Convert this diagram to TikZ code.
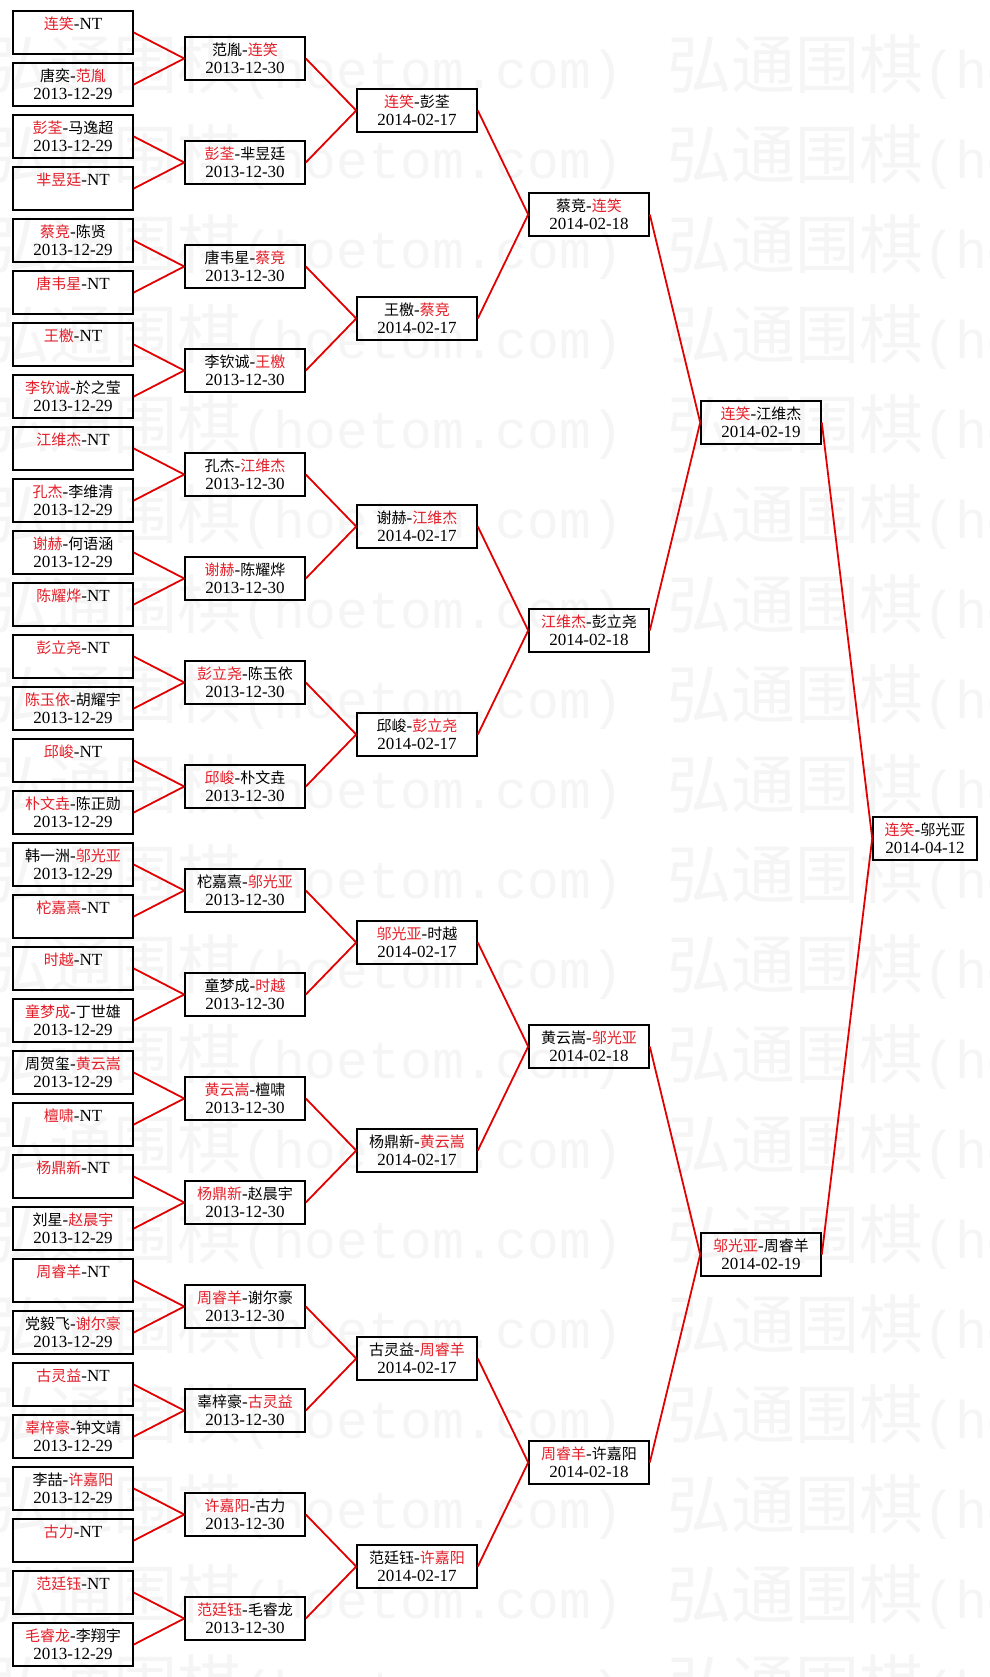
\documentclass[tikz,border=0pt]{standalone}
\usepackage{fontspec}
\setmainfont{Liberation Serif}
\newfontfamily\cjk{Noto Sans CJK SC}
\newfontfamily\wmmono{Liberation Mono}
\definecolor{namered}{RGB}{228,30,40}
\definecolor{linkred}{RGB}{226,0,0}
\newcommand\won[1]{{\cjk\fontsize{15}{18}\selectfont\color{namered}#1}}
\newcommand\lost[1]{{\cjk\fontsize{15}{18}\selectfont #1}}
\begin{document}
\begin{tikzpicture}[x=1pt,y=-1pt,
  match/.style={draw,line width=1.6pt,inner sep=0pt,minimum width=120pt,minimum height=43pt,
    align=center,font=\fontsize{17}{18}\selectfont,execute at begin node={\rule{0pt}{14pt}}},
  final/.style={match,minimum width=104pt},
  link/.style={draw=linkred,line width=1.8pt},
  wm/.style={anchor=west,inner sep=0pt,text=black!4,font=\cjk\fontsize{64}{64}\selectfont}]
\path[use as bounding box,fill=white] (0,0) rectangle (989,1677);
\begin{scope}
\clip (0,0) rectangle (989,1677);
\foreach \k in {0,...,18}
  \foreach \x [count=\c] in {-15,667}
    \node[wm] (wm\k-\c) at (\x,{67+90*\k}) {弘通围棋{\wmmono\fontsize{53}{53}\selectfont(hoetom.com)}};
\end{scope}
\node[match] (a0) at (73,32.5) {\won{连笑}-NT\\\mbox{}};
\node[match] (a1) at (73,84.5) {\lost{唐奕}-\won{范胤}\\2013-12-29};
\node[match] (a2) at (73,136.5) {\won{彭荃}-\lost{马逸超}\\2013-12-29};
\node[match] (a3) at (73,188.5) {\won{芈昱廷}-NT\\\mbox{}};
\node[match] (a4) at (73,240.5) {\won{蔡竞}-\lost{陈贤}\\2013-12-29};
\node[match] (a5) at (73,292.5) {\won{唐韦星}-NT\\\mbox{}};
\node[match] (a6) at (73,344.5) {\won{王檄}-NT\\\mbox{}};
\node[match] (a7) at (73,396.5) {\won{李钦诚}-\lost{於之莹}\\2013-12-29};
\node[match] (a8) at (73,448.5) {\won{江维杰}-NT\\\mbox{}};
\node[match] (a9) at (73,500.5) {\won{孔杰}-\lost{李维清}\\2013-12-29};
\node[match] (a10) at (73,552.5) {\won{谢赫}-\lost{何语涵}\\2013-12-29};
\node[match] (a11) at (73,604.5) {\won{陈耀烨}-NT\\\mbox{}};
\node[match] (a12) at (73,656.5) {\won{彭立尧}-NT\\\mbox{}};
\node[match] (a13) at (73,708.5) {\won{陈玉依}-\lost{胡耀宇}\\2013-12-29};
\node[match] (a14) at (73,760.5) {\won{邱峻}-NT\\\mbox{}};
\node[match] (a15) at (73,812.5) {\won{朴文垚}-\lost{陈正勋}\\2013-12-29};
\node[match] (a16) at (73,864.5) {\lost{韩一洲}-\won{邬光亚}\\2013-12-29};
\node[match] (a17) at (73,916.5) {\won{柁嘉熹}-NT\\\mbox{}};
\node[match] (a18) at (73,968.5) {\won{时越}-NT\\\mbox{}};
\node[match] (a19) at (73,1020.5) {\won{童梦成}-\lost{丁世雄}\\2013-12-29};
\node[match] (a20) at (73,1072.5) {\lost{周贺玺}-\won{黄云嵩}\\2013-12-29};
\node[match] (a21) at (73,1124.5) {\won{檀啸}-NT\\\mbox{}};
\node[match] (a22) at (73,1176.5) {\won{杨鼎新}-NT\\\mbox{}};
\node[match] (a23) at (73,1228.5) {\lost{刘星}-\won{赵晨宇}\\2013-12-29};
\node[match] (a24) at (73,1280.5) {\won{周睿羊}-NT\\\mbox{}};
\node[match] (a25) at (73,1332.5) {\lost{党毅飞}-\won{谢尔豪}\\2013-12-29};
\node[match] (a26) at (73,1384.5) {\won{古灵益}-NT\\\mbox{}};
\node[match] (a27) at (73,1436.5) {\won{辜梓豪}-\lost{钟文靖}\\2013-12-29};
\node[match] (a28) at (73,1488.5) {\lost{李喆}-\won{许嘉阳}\\2013-12-29};
\node[match] (a29) at (73,1540.5) {\won{古力}-NT\\\mbox{}};
\node[match] (a30) at (73,1592.5) {\won{范廷钰}-NT\\\mbox{}};
\node[match] (a31) at (73,1644.5) {\won{毛睿龙}-\lost{李翔宇}\\2013-12-29};
\node[match] (b0) at (245,58.5) {\lost{范胤}-\won{连笑}\\2013-12-30};
\node[match] (b1) at (245,162.5) {\won{彭荃}-\lost{芈昱廷}\\2013-12-30};
\node[match] (b2) at (245,266.5) {\lost{唐韦星}-\won{蔡竞}\\2013-12-30};
\node[match] (b3) at (245,370.5) {\lost{李钦诚}-\won{王檄}\\2013-12-30};
\node[match] (b4) at (245,474.5) {\lost{孔杰}-\won{江维杰}\\2013-12-30};
\node[match] (b5) at (245,578.5) {\won{谢赫}-\lost{陈耀烨}\\2013-12-30};
\node[match] (b6) at (245,682.5) {\won{彭立尧}-\lost{陈玉依}\\2013-12-30};
\node[match] (b7) at (245,786.5) {\won{邱峻}-\lost{朴文垚}\\2013-12-30};
\node[match] (b8) at (245,890.5) {\lost{柁嘉熹}-\won{邬光亚}\\2013-12-30};
\node[match] (b9) at (245,994.5) {\lost{童梦成}-\won{时越}\\2013-12-30};
\node[match] (b10) at (245,1098.5) {\won{黄云嵩}-\lost{檀啸}\\2013-12-30};
\node[match] (b11) at (245,1202.5) {\won{杨鼎新}-\lost{赵晨宇}\\2013-12-30};
\node[match] (b12) at (245,1306.5) {\won{周睿羊}-\lost{谢尔豪}\\2013-12-30};
\node[match] (b13) at (245,1410.5) {\lost{辜梓豪}-\won{古灵益}\\2013-12-30};
\node[match] (b14) at (245,1514.5) {\won{许嘉阳}-\lost{古力}\\2013-12-30};
\node[match] (b15) at (245,1618.5) {\won{范廷钰}-\lost{毛睿龙}\\2013-12-30};
\node[match] (c0) at (417,110.5) {\won{连笑}-\lost{彭荃}\\2014-02-17};
\node[match] (c1) at (417,318.5) {\lost{王檄}-\won{蔡竞}\\2014-02-17};
\node[match] (c2) at (417,526.5) {\lost{谢赫}-\won{江维杰}\\2014-02-17};
\node[match] (c3) at (417,734.5) {\lost{邱峻}-\won{彭立尧}\\2014-02-17};
\node[match] (c4) at (417,942.5) {\won{邬光亚}-\lost{时越}\\2014-02-17};
\node[match] (c5) at (417,1150.5) {\lost{杨鼎新}-\won{黄云嵩}\\2014-02-17};
\node[match] (c6) at (417,1358.5) {\lost{古灵益}-\won{周睿羊}\\2014-02-17};
\node[match] (c7) at (417,1566.5) {\lost{范廷钰}-\won{许嘉阳}\\2014-02-17};
\node[match] (d0) at (589,214.5) {\lost{蔡竞}-\won{连笑}\\2014-02-18};
\node[match] (d1) at (589,630.5) {\won{江维杰}-\lost{彭立尧}\\2014-02-18};
\node[match] (d2) at (589,1046.5) {\lost{黄云嵩}-\won{邬光亚}\\2014-02-18};
\node[match] (d3) at (589,1462.5) {\won{周睿羊}-\lost{许嘉阳}\\2014-02-18};
\node[match] (e0) at (761,422.5) {\won{连笑}-\lost{江维杰}\\2014-02-19};
\node[match] (e1) at (761,1254.5) {\won{邬光亚}-\lost{周睿羊}\\2014-02-19};
\node[final] (f) at (925,838.5) {\won{连笑}-\lost{邬光亚}\\2014-04-12};
\foreach \i in {0,...,31}{\pgfmathtruncatemacro\j{\i/2}\draw[link] (a\i.east) -- (b\j.west);}
\foreach \i in {0,...,15}{\pgfmathtruncatemacro\j{\i/2}\draw[link] (b\i.east) -- (c\j.west);}
\foreach \i in {0,...,7}{\pgfmathtruncatemacro\j{\i/2}\draw[link] (c\i.east) -- (d\j.west);}
\foreach \i in {0,...,3}{\pgfmathtruncatemacro\j{\i/2}\draw[link] (d\i.east) -- (e\j.west);}
\draw[link] (e0.east) -- (f.west);
\draw[link] (e1.east) -- (f.west);
\end{tikzpicture}
\end{document}
